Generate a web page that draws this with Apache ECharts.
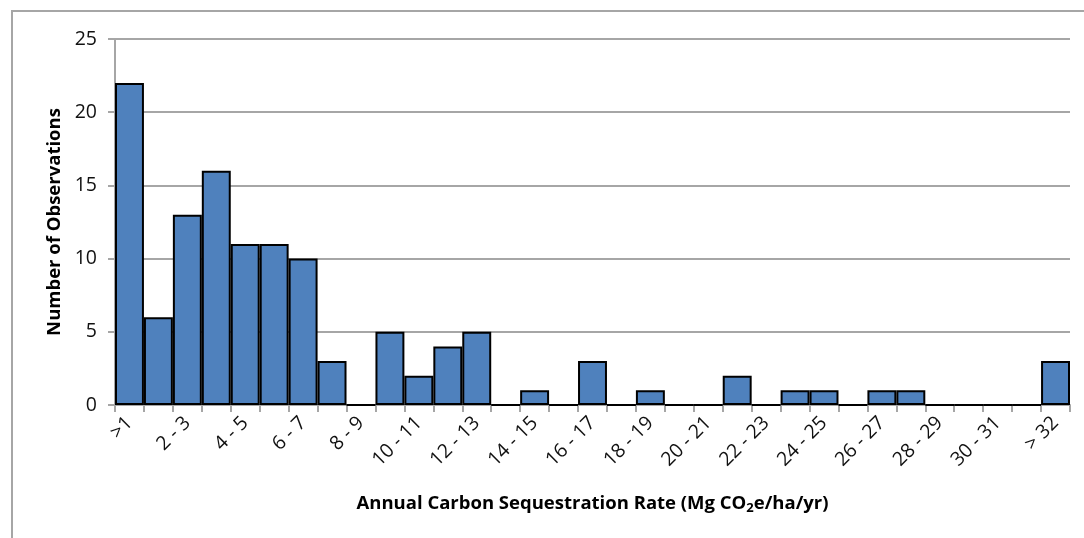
<!DOCTYPE html>
<html>
<head>
<meta charset="utf-8">
<script src="https://cdn.jsdelivr.net/npm/echarts@6/dist/echarts.min.js"></script>
<style>
  html, body { margin: 0; padding: 0; background: #fff; }
  #chart { width: 1084px; height: 538px; }
</style>
</head>
<body>
<div id="chart"></div>
<script>
  // bins of annual sequestration rate, one bar per 1 Mg step
  var categories = ['>1'];
  for (var i = 1; i <= 31; i++) categories.push(i + ' - ' + (i + 1));
  categories.push('> 32');

  var counts = [22, 6, 13, 16, 11, 11, 10, 3, 0, 5, 2, 4, 5, 0, 1, 0, 3, 0, 1, 0, 0, 2, 0, 1, 1, 0, 1, 1, 0, 0, 0, 0, 3];

  var yTicks = { min: 0, max: 25, interval: 5 };

  var font = '"Open Sans", "Liberation Sans", sans-serif';

  var option = {
    animation: false,
    backgroundColor: '#fff',
    graphic: [{
      type: 'rect',
      shape: { x: 12, y: 11, width: 1200, height: 600 },
      style: { fill: 'none', stroke: '#a6a6a6', lineWidth: 2 },
      silent: true
    }],
    grid: { left: 115, right: 14, top: 39, bottom: 133 },
    xAxis: {
      type: 'category',
      data: categories,
      boundaryGap: true,
      name: 'Annual Carbon Sequestration Rate (Mg CO{sub|2}e/ha/yr)',
      nameLocation: 'middle',
      nameGap: 88,
      nameTextStyle: {
        fontFamily: font, fontWeight: 'bold', fontSize: 18.5, color: '#000',
        rich: { sub: { fontFamily: font, fontWeight: 'bold', fontSize: 13, color: '#000', verticalAlign: 'bottom', padding: [9, 0, 0, 0] } }
      },
      axisLine: { lineStyle: { color: '#a6a6a6', width: 2 } },
      axisTick: { show: true, interval: 0, length: 7, lineStyle: { color: '#a6a6a6', width: 2 } },
      axisLabel: {
        interval: 1, rotate: 45, fontFamily: font, fontSize: 19.5, color: '#111', margin: 15
      },
      splitLine: { show: false }
    },
    yAxis: {
      type: 'value',
      min: yTicks.min, max: yTicks.max, interval: yTicks.interval,
      name: 'Number of Observations',
      nameLocation: 'middle',
      nameGap: 47,
      nameTextStyle: { fontFamily: font, fontWeight: 'bold', fontSize: 18.5, color: '#000' },
      axisLine: { show: true, lineStyle: { color: '#a6a6a6', width: 2 } },
      axisTick: { show: true, length: 7, lineStyle: { color: '#a6a6a6', width: 2 } },
      axisLabel: { fontFamily: font, fontSize: 19.5, color: '#111', margin: 18 },
      splitLine: { lineStyle: { color: '#a6a6a6', width: 2 } }
    },
    series: [{
      type: 'bar',
      data: counts,
      barCategoryGap: 0,
      itemStyle: { color: '#4f81bd', borderColor: '#000', borderWidth: 2 }
    }]
  };

  var myChart = echarts.init(document.getElementById('chart'));
  myChart.setOption(option);
</script>
</body>
</html>
